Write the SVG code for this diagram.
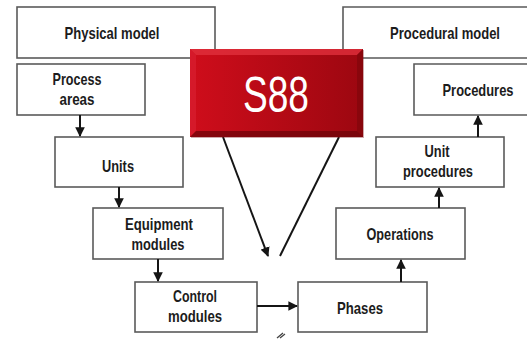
<svg xmlns="http://www.w3.org/2000/svg" width="527" height="339" viewBox="0 0 527 339">
  <defs>
    <style>
      .box { fill: #ffffff; stroke: #5a5a5a; stroke-width: 1.6; }
      .lbl { font-family: "Liberation Sans", Arial, sans-serif; font-weight: bold; font-size: 17px; fill: #1c1c1c; text-anchor: middle; }
      .wire { stroke: #151515; stroke-width: 2; fill: none; }
      .wire-a { stroke: #151515; stroke-width: 2; fill: none; marker-end: url(#head); }
    </style>
    <marker id="head" viewBox="0 0 10 10" refX="9" refY="5" markerWidth="4.8" markerHeight="4.8" markerUnits="strokeWidth" orient="auto">
      <path d="M0,0 L10,5 L0,10 z" fill="#151515"/>
    </marker>
    <linearGradient id="red" x1="0" y1="0" x2="1" y2="0">
      <stop offset="0" stop-color="#cf0d1b"/>
      <stop offset="1" stop-color="#9c0710"/>
    </linearGradient>
  </defs>

  <!-- model headers -->
  <g id="physical-model">
    <rect class="box" x="17" y="7" width="198" height="51"/>
    <text class="lbl" x="112" y="39" textLength="95" lengthAdjust="spacingAndGlyphs">Physical model</text>
  </g>
  <g id="procedural-model">
    <!-- box runs off the right edge of the canvas -->
    <path class="box" d="M527,7 H343 V58 H527"/>
    <text class="lbl" x="445" y="39" textLength="110" lengthAdjust="spacingAndGlyphs">Procedural model</text>
  </g>

  <!-- physical hierarchy -->
  <g id="process-areas">
    <rect class="box" x="17" y="64" width="128" height="51"/>
    <text class="lbl" x="77" y="85" textLength="49" lengthAdjust="spacingAndGlyphs">Process</text>
    <text class="lbl" x="77" y="105" textLength="35" lengthAdjust="spacingAndGlyphs">areas</text>
  </g>
  <g id="units">
    <rect class="box" x="55" y="137" width="128" height="50"/>
    <text class="lbl" x="118" y="172" textLength="32" lengthAdjust="spacingAndGlyphs">Units</text>
  </g>
  <g id="equipment-modules">
    <rect class="box" x="93" y="208" width="130" height="51"/>
    <text class="lbl" x="159" y="230" textLength="68" lengthAdjust="spacingAndGlyphs">Equipment</text>
    <text class="lbl" x="158" y="250" textLength="53" lengthAdjust="spacingAndGlyphs">modules</text>
  </g>
  <g id="control-modules">
    <rect class="box" x="135" y="282" width="122" height="50"/>
    <text class="lbl" x="195" y="302" textLength="44" lengthAdjust="spacingAndGlyphs">Control</text>
    <text class="lbl" x="195" y="322" textLength="54" lengthAdjust="spacingAndGlyphs">modules</text>
  </g>

  <!-- procedural hierarchy -->
  <g id="phases">
    <rect class="box" x="298" y="282" width="129" height="50"/>
    <text class="lbl" x="360" y="314" textLength="46" lengthAdjust="spacingAndGlyphs">Phases</text>
  </g>
  <g id="operations">
    <rect class="box" x="336" y="208" width="129" height="51"/>
    <text class="lbl" x="400" y="240" textLength="67" lengthAdjust="spacingAndGlyphs">Operations</text>
  </g>
  <g id="unit-procedures">
    <rect class="box" x="376" y="137" width="128" height="50"/>
    <text class="lbl" x="437" y="157" textLength="25" lengthAdjust="spacingAndGlyphs">Unit</text>
    <text class="lbl" x="438" y="177" textLength="70" lengthAdjust="spacingAndGlyphs">procedures</text>
  </g>
  <g id="procedures">
    <!-- box runs off the right edge of the canvas -->
    <path class="box" d="M527,64 H414 V115 H527"/>
    <text class="lbl" x="478" y="96" textLength="71" lengthAdjust="spacingAndGlyphs">Procedures</text>
  </g>

  <!-- connectors -->
  <g id="connectors">
    <line class="wire-a" x1="80" y1="115" x2="80" y2="136"/>
    <line class="wire-a" x1="119" y1="187" x2="119" y2="207"/>
    <line class="wire-a" x1="158" y1="259" x2="158" y2="281"/>
    <line class="wire-a" x1="257" y1="306" x2="297" y2="306"/>
    <line class="wire-a" x1="401" y1="282" x2="401" y2="260"/>
    <line class="wire-a" x1="439" y1="208" x2="439" y2="188"/>
    <line class="wire-a" x1="478" y1="137" x2="478" y2="116"/>
    <line class="wire-a" x1="223" y1="137" x2="268" y2="256"/>
    <line class="wire" x1="339" y1="137" x2="280" y2="256"/>
    <path d="M277,338 L283,333 M280,338 L285,334" stroke="#444" stroke-width="1.3" fill="none"/>
  </g>

  <!-- S88 badge with bevelled edges -->
  <g id="s88">
    <rect x="191" y="50" width="173" height="88" fill="#7a0a0e" opacity="0.35"/>
    <rect x="190" y="49" width="173" height="88" fill="url(#red)"/>
    <polygon points="190,49 363,49 357,55 196,55" fill="#e0303c" opacity="0.8"/>
    <polygon points="190,49 196,55 196,131 190,137" fill="#d82030" opacity="0.7"/>
    <polygon points="363,49 363,137 357,131 357,55" fill="#80050b" opacity="0.7"/>
    <polygon points="190,137 363,137 357,131 196,131" fill="#6e040a" opacity="0.75"/>
    <text x="276" y="112" font-family="Liberation Sans, Arial, sans-serif" font-size="50" fill="#ffffff" text-anchor="middle" textLength="66" lengthAdjust="spacingAndGlyphs">S88</text>
  </g>
</svg>
